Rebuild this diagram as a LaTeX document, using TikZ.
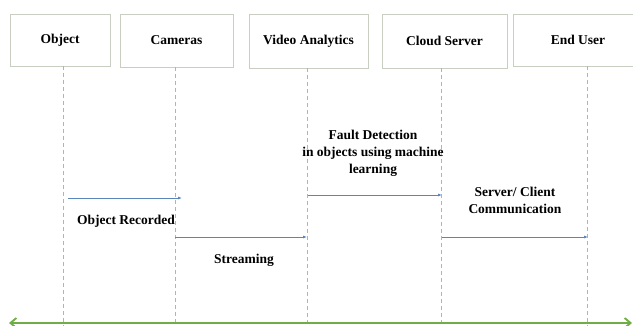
\documentclass[tikz,border=0pt]{standalone}
\usepackage{fontspec}
\setmainfont{Liberation Serif}
\usetikzlibrary{arrows.meta}
\definecolor{boxline}{HTML}{C9CEC2}
\definecolor{lifeline}{HTML}{A9B4C4}
\definecolor{msgblue}{HTML}{5A86BC}
\definecolor{timegreen}{HTML}{70AD47}
\tikzset{
  actor/.style={draw=boxline, line width=0.9pt, fill=white, inner sep=0pt, font=\fontsize{13.5}{16}\selectfont\bfseries},
  life/.style={draw=lifeline, line width=0.7pt, dash pattern=on 4pt off 3pt},
  msg/.style={draw=msgblue, line width=0.8pt, -{Latex[length=4pt,width=3pt]}},
  lbl/.style={font=\fontsize{13.5}{17}\selectfont\bfseries, align=center, inner sep=0pt},
  timeline/.style={draw=timegreen, line width=1.8pt, {Straight Barb[length=6pt,width=10pt]}-{Straight Barb[length=6pt,width=10pt]}}
}
\begin{document}
\begin{tikzpicture}[x=1pt,y=-1pt]
\useasboundingbox (0,0) rectangle (633,326);
\fill[white] (0,0) rectangle (633,326);
% boxes
\node[actor, minimum width=100pt, minimum height=52pt] (obj) at (60,40) {Object};
\node[actor, minimum width=113pt, minimum height=53pt] (cam) at (176.5,40.5) {Cameras};
\node[actor, minimum width=119pt, minimum height=54pt] (va) at (308.5,41) {Video Analytics};
\node[actor, minimum width=125pt, minimum height=54pt] (cs) at (444.5,41) {Cloud Server};
\draw[boxline, line width=0.9pt] (632.5,14) -- (513,14) -- (513,66) -- (632.5,66);
\node[actor, draw=none, fill=none] (eu) at (578,40) {End User};
% lifeline anchors
\coordinate (objL) at (63,66);
\coordinate (camL) at (175,67);
\coordinate (vaL) at (307,68);
\coordinate (csL) at (441,68);
\coordinate (euL) at (587,66);
\coordinate (objB) at (63,326);
\coordinate (camB) at (175,326);
\coordinate (vaB) at (307,326);
\coordinate (csB) at (441,326);
\coordinate (euB) at (587,326);
\draw[life] (objL) -- (objB);
\draw[life] (camL) -- (camB);
\draw[life] (vaL) -- (vaB);
\draw[life] (csL) -- (csB);
\draw[life] (euL) -- (euB);
% messages
\coordinate (m1s) at (68,198);
\coordinate (m1e) at (182,198);
\coordinate (m2s) at (175,237);
\coordinate (m2e) at (307,237);
\coordinate (m3s) at (308,195);
\coordinate (m3e) at (442,195);
\coordinate (m4s) at (442,237);
\coordinate (m4e) at (588,237);
\draw[msg] (m1s) -- (m1e);
\draw[msg] (m2s) -- (m2e);
\draw[msg] (m3s) -- (m3e);
\draw[msg] (m4s) -- (m4e);
% labels
\node[lbl] (l1) at (126,221) {Object Recorded};
\node[lbl] (l2) at (244,260) {Streaming};
\node[lbl] (l3) at (373,153) {Fault Detection\\in objects using machine\\learning};
\node[lbl] (l4) at (515,200) {Server/ Client\\Communication};
% time line
\coordinate (tl) at (9,323);
\coordinate (tr) at (632,323);
\draw[timeline] (tl) -- (tr);
\end{tikzpicture}
\end{document}
